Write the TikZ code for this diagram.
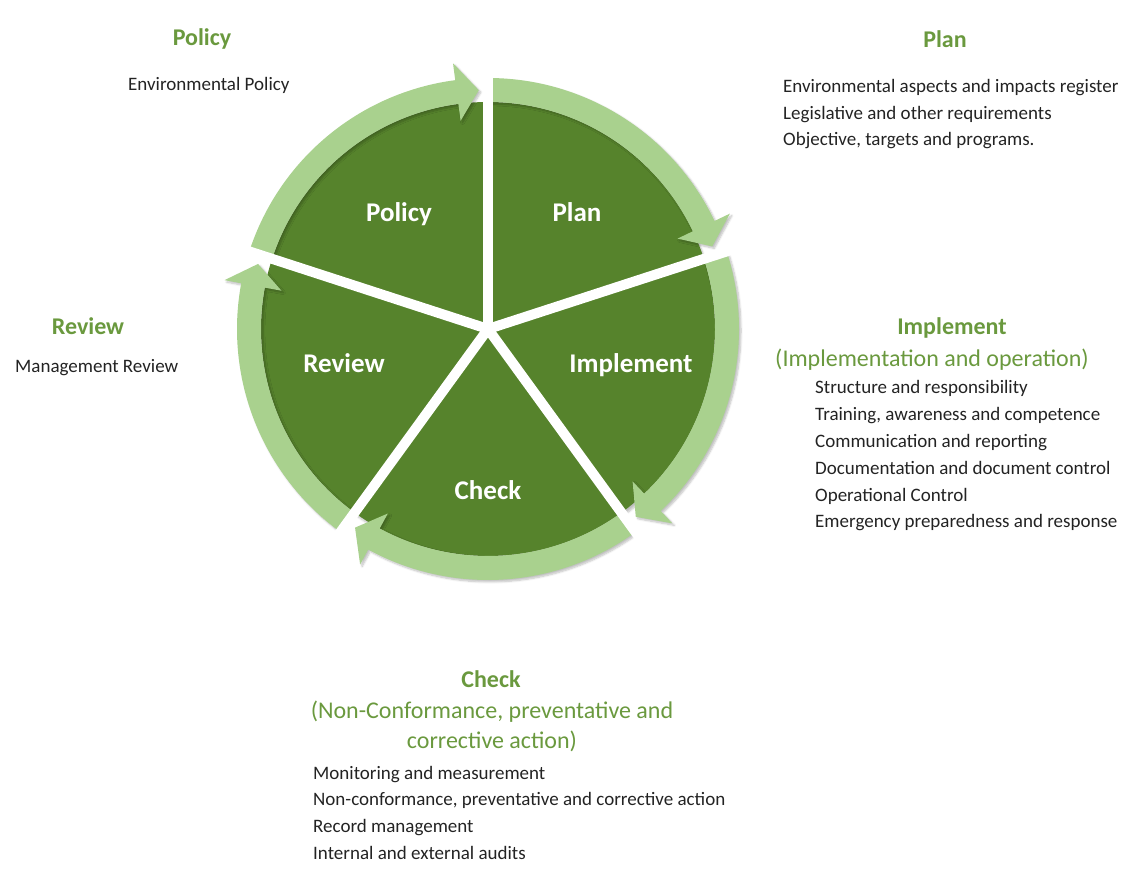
\documentclass[tikz,border=0pt]{standalone}
\usepackage{fontspec}
\setmainfont{Carlito}
\usepackage{tikz}
\usetikzlibrary{calc}
\usetikzlibrary{shadows.blur}
\definecolor{leafdark}{RGB}{86,131,44}
\definecolor{leaflight}{RGB}{169,209,142}
\definecolor{headgreen}{RGB}{106,153,62}
\definecolor{bodytext}{RGB}{35,35,35}
% ring arrow from gap #1 clockwise to gap #2
\newcommand{\RingArrow}[2]{\fill[ArrowBand] (#1:251) arc[start angle=#1, end angle={#2+7.5}, radius=251]
  -- ({#2+7.5}:268) -- ({#2+2.2}:239) -- ({#2+7.5}:210) -- ({#2+7.5}:227)
  arc[start angle={#2+7.5}, end angle=#1, radius=227] -- cycle;}

\begin{document}
\begin{tikzpicture}[
x=1pt,y=1pt,
Head/.style={text=headgreen,font=\fontsize{24}{29}\selectfont\bfseries,anchor=base,inner sep=0pt},
SubHead/.style={text=headgreen,font=\fontsize{24}{30}\selectfont,anchor=base,inner sep=0pt},
Item/.style={text=bodytext,font=\fontsize{19}{26}\selectfont,anchor=base west,inner sep=0pt},
WheelLabel/.style={text=white,font=\fontsize{27}{32}\selectfont\bfseries,anchor=base,inner sep=0pt},
ArrowBand/.style={fill=leaflight,blur shadow={shadow xshift=2pt,shadow yshift=-2pt,shadow blur steps=6,shadow opacity=25}},
GapLine/.style={white,line width=10pt}
]
\useasboundingbox (0,0) rectangle (1136,871);

% the wheel
\begin{scope}[shift={(488,542)}]
\fill[leafdark,blur shadow={shadow xshift=2pt,shadow yshift=-3pt,shadow blur steps=6,shadow opacity=25}] (0,0) circle (227);
\RingArrow{162}{90}
\RingArrow{90}{18}
\RingArrow{18}{-54}
\RingArrow{-54}{-126}
\RingArrow{-126}{-198}
\foreach \g in {90,18,-54,-126,162} \draw[GapLine] (0,0) -- (\g:285);
\end{scope}

\node[WheelLabel] (wpolicy) at (399,649) {Policy};
\node[WheelLabel] (wplan) at (577,649) {Plan};
\node[WheelLabel] (wreview) at (344,498) {Review};
\node[WheelLabel] (wimpl) at (631,498) {Implement};
\node[WheelLabel] (wcheck) at (488,371) {Check};

% Policy
\node[Head] (policyhead) at (202,825) {Policy};
\node[Item] (policy1) at (128,780) {Environmental Policy};

% Plan
\node[Head] (planhead) at (945,823) {Plan};
\foreach \t [count=\i] in {Environmental aspects and impacts register, Legislative and other requirements, {Objective, targets and programs.}}
  \node[Item] (plan\i) at (783,{778-26.5*(\i-1)}) {\t};

% Review
\node[Head] (reviewhead) at (88,536) {Review};
\node[Item] (review1) at (15,498) {Management Review};

% Implement
\node[Head] (implhead) at (952,536) {Implement};
\node[SubHead] (implsub) at (932,504) {(Implementation and operation)};
\foreach \t [count=\i] in {Structure and responsibility, {Training, awareness and competence}, Communication and reporting, Documentation and document control, Operational Control, Emergency preparedness and response}
  \node[Item] (impl\i) at (815,{477-26.8*(\i-1)}) {\t};

% Check
\node[Head] (checkhead) at (491,183) {Check};
\node[SubHead] (checksub1) at (492,152) {(Non-Conformance, preventative and};
\node[SubHead] (checksub2) at (492,122) {corrective action)};
\foreach \t [count=\i] in {Monitoring and measurement, {Non-conformance, preventative and corrective action}, Record management, Internal and external audits}
  \node[Item] (check\i) at (313,{92-26.7*(\i-1)}) {\t};

\end{tikzpicture}
\end{document}
